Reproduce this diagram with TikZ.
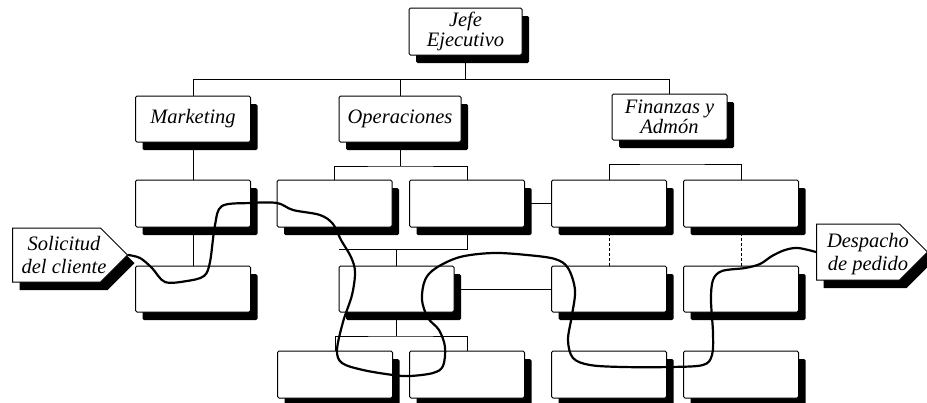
\documentclass[tikz,border=0pt]{standalone}
\usepackage{fontspec}
\setmainfont{Liberation Serif}
\usetikzlibrary{shadows,shapes.symbols,backgrounds}

\begin{document}
\begin{tikzpicture}[x=1pt, y=-1pt, line width=0.9pt,
  unit/.style={draw, line width=1pt, fill=white, rounded corners=1.5pt, minimum width=115, minimum height=47, inner sep=0pt, align=center, font=\itshape\fontsize{20.5}{20}\selectfont, drop shadow={shadow xshift=7pt, shadow yshift=-8pt, fill=black, opacity=1}},
  flag/.style={signal, signal to=east, signal pointer angle=90, draw, line width=1pt, fill=white, inner sep=0pt, drop shadow={shadow xshift=7pt, shadow yshift=-8pt, fill=black, opacity=1}},
  flagtext/.style={inner sep=0pt, align=center, font=\itshape\fontsize{20.5}{23}\selectfont},
  link/.style={line width=0.9pt},
  flow/.style={line width=2.2pt, line join=round, line cap=round}]
\useasboundingbox (0,0) rectangle (927,402);

\node[unit, minimum width=113] (jefe) at (465.5,31.5) {Jefe\\Ejecutivo};
\node[unit, minimum height=46] (mkt) at (193,119) {Marketing};
\node[unit, minimum width=122, minimum height=46] (ops) at (400,119) {Operaciones};
\node[unit, minimum height=46] (fin) at (669.5,117) {Finanzas y\\Admón};

\node[unit] (m1) at (193,203.5) {};
\node[unit] (o1) at (334.5,203.5) {};
\node[unit] (o2) at (467,203.5) {};
\node[unit] (f1) at (609,203.5) {};
\node[unit] (f2) at (741,203.5) {};

\node[unit, minimum height=46] (m2) at (193,289) {};
\node[unit, minimum height=46] (o3) at (396.5,289) {};
\node[unit, minimum height=46] (f3) at (609,289) {};
\node[unit, minimum height=46] (f4) at (741,289) {};

\node[unit] (o4) at (335,374.5) {};
\node[unit] (o5) at (467,374.5) {};
\node[unit] (f5) at (609,374.5) {};
\node[unit] (f6) at (741,374.5) {};

\node[flag, anchor=west, minimum width=115, minimum height=54] (sol) at (12,255) {};
\node[flagtext] (soltxt) at (64,255) {Solicitud\\del cliente};
\node[flag, anchor=west, minimum width=111, minimum height=56] (desp) at (816,252) {};
\node[flagtext] (desptxt) at (868,254) {Despacho\\de pedido};

\coordinate (bus) at (465.5,79);
\coordinate (obr1) at (400,166);
\coordinate (obr2) at (400,249);
\coordinate (obr3) at (400,336);
\coordinate (fbr) at (669,164);

\begin{scope}[on background layer]
\draw[link] (jefe.south) -- (jefe.south |- bus);
\draw[link] (mkt.north |- bus) -| (fin.north);
\draw[link] (mkt.north) -- (mkt.north |- bus);
\draw[link] (ops.north) -- (ops.north |- bus);
\draw[link] (mkt.south) -- (m1.north);
\draw[link] (m1.south) -- (m2.north);
\draw[link] (ops.south) -- (ops.south |- obr1);
\draw[link] (o1.north) |- (obr1) -| (o2.north);
\draw[link] (f1.north) |- (fbr) -| (f2.north);
\draw[link] (o2.east) -- (f1.west);
\draw[link] (o2.south) |- (o3.north west |- obr2);
\draw[link] (o3.north |- obr2) -- (o3.north);
\draw[link] (o3.east) -- (f3.west);
\draw[link, densely dashed] (f1.south) -- (f3.north);
\draw[link, densely dashed] (f2.south) -- (f4.north);
\draw[link] (o3.south) -- (o3.south |- obr3);
\draw[link] (o4.north) |- (obr3) -| (o5.north);
\end{scope}

\draw[flow] plot[smooth, tension=0.55] coordinates {(sol.east) (140,258) (152,268) (165,282) (187,281) (204,276) (210,262) (215,225) (222,206) (250,203) (277,203) (293,210) (320,215) (333,224) (341,240) (351,257) (355,272) (352,295) (343,322) (337,350) (342,363) (363,370) (393,375) (410,376) (433,373) (443,366) (445,347) (439,330) (428,318) (422,300) (425,280) (436,268) (460,257) (493,253) (527,255) (555,259) (568,268) (575,290) (572,315) (568,340) (573,358) (590,365) (623,367) (670,367) (703,365) (712,355) (713,333) (711,300) (713,280) (722,271) (745,268) (760,264) (772,256) (785,250) (798,248) (desp.west)};
\end{tikzpicture}
\end{document}
